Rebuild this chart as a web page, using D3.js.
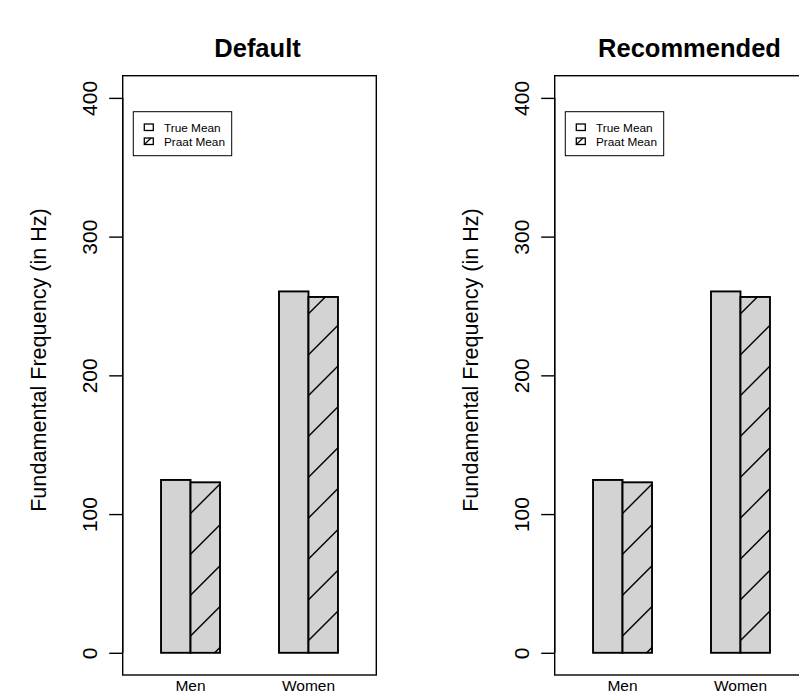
<!DOCTYPE html>
<html>
<head>
<meta charset="utf-8">
<script src="https://cdn.jsdelivr.net/npm/d3@7"></script>
<style>
  html, body { margin: 0; padding: 0; background: #fff; }
  svg { display: block; font-family: "Liberation Sans", Arial, Helvetica, sans-serif; }
</style>
</head>
<body>
<svg id="chart" width="799" height="696"></svg>
<script>
// Mean fundamental frequency (Hz) per speaker group, true vs. Praat estimate
const groups = ["Men", "Women"];
const seriesNames = ["True Mean", "Praat Mean"];
const panelTitles = ["Default", "Recommended"];
const defaultTrue = [124.6, 260.5];
const defaultPraat = [122.9, 256.5];
const recommendedTrue = [124.6, 260.5];
const recommendedPraat = [122.9, 256.5];
const yTicks = [0, 100, 200, 300, 400];

const panels = [
  { title: panelTitles[0], trueVals: defaultTrue, praatVals: defaultPraat },
  { title: panelTitles[1], trueVals: recommendedTrue, praatVals: recommendedPraat }
];

const svg = d3.select("#chart");
const panelWidth = 432;
const plot = { left: 122.7, right: 376.3, top: 75.7, bottom: 675 };

// y range padded 4% beyond [0, 400]
const y = d3.scaleLinear().domain([-16, 416]).range([plot.bottom, plot.top]);
// x in bar-width units: each group holds two adjacent bars, groups 4 units apart
const x = d3.scaleLinear().domain([-1.3, 7.3]).range([plot.left, plot.right]);
const groupStart = i => i * 4;

const hatchStep = 40.85;   // horizontal distance between 45° hatch lines
const hatchPhase = 214.6;  // x where a hatch line meets the zero line

panels.forEach((p, pi) => {
  const g = svg.append("g").attr("transform", `translate(${pi * panelWidth},0)`);

  // title
  g.append("text")
    .attr("x", (plot.left + plot.right) / 2 + 8)
    .attr("y", 57)
    .attr("text-anchor", "middle")
    .attr("font-weight", "bold")
    .attr("font-size", 25.5)
    .text(p.title);

  // bars
  const bars = [];
  groups.forEach((name, i) => {
    bars.push({ x0: groupStart(i), x1: groupStart(i) + 1, v: p.trueVals[i], hatch: false });
    bars.push({ x0: groupStart(i) + 1, x1: groupStart(i) + 2, v: p.praatVals[i], hatch: true });
  });

  bars.forEach((b, bi) => {
    const bx = x(b.x0), bw = x(b.x1) - x(b.x0);
    const by = y(b.v), bh = y(0) - y(b.v);
    g.append("rect")
      .attr("x", bx).attr("y", by).attr("width", bw).attr("height", bh)
      .attr("fill", "#d3d3d3");
    if (b.hatch) {
      const clipId = `clip-${pi}-${bi}`;
      g.append("clipPath").attr("id", clipId)
        .append("rect").attr("x", bx).attr("y", by).attr("width", bw).attr("height", bh);
      const y0 = y(0);
      const kMin = Math.floor((bx - bh - hatchPhase) / hatchStep) - 1;
      const kMax = Math.ceil((bx + bw - hatchPhase) / hatchStep) + 1;
      const hg = g.append("g").attr("clip-path", `url(#${clipId})`);
      d3.range(kMin, kMax + 1).forEach(k => {
        const xi = hatchPhase + k * hatchStep;
        hg.append("line")
          .attr("x1", xi).attr("y1", y0)
          .attr("x2", xi + bh + 10).attr("y2", y0 - bh - 10)
          .attr("stroke", "#000").attr("stroke-width", 1.4);
      });
    }
    g.append("rect")
      .attr("x", bx).attr("y", by).attr("width", bw).attr("height", bh)
      .attr("fill", "none").attr("stroke", "#000").attr("stroke-width", 1.9);
  });

  // plot box
  g.append("rect")
    .attr("x", plot.left).attr("y", plot.top)
    .attr("width", plot.right - plot.left).attr("height", plot.bottom - plot.top)
    .attr("fill", "none").attr("stroke", "#000").attr("stroke-width", 1.4);

  // y axis
  const yAxis = d3.axisLeft(y).tickValues(yTicks).tickSize(13.5).tickPadding(12);
  const ax = g.append("g").attr("transform", `translate(${plot.left},0)`).call(yAxis);
  ax.select(".domain").attr("d", `M0,${y(0)}V${y(400)}`).attr("stroke-width", 1.4);
  ax.selectAll(".tick line").attr("stroke-width", 1.4);
  ax.selectAll(".tick text")
    .attr("font-size", 21)
    .attr("font-family", "Liberation Sans, Arial, sans-serif")
    .attr("fill", "#000")
    .attr("text-anchor", "middle")
    .attr("dy", null)
    .attr("x", null)
    .attr("transform", "translate(-25.5,0) rotate(-90)");

  // y axis title
  g.append("text")
    .attr("transform", `translate(46,360) rotate(-90)`)
    .attr("text-anchor", "middle")
    .attr("font-size", 21.6)
    .text("Fundamental Frequency (in Hz)");

  // group labels
  groups.forEach((name, i) => {
    g.append("text")
      .attr("x", x(groupStart(i) + 1))
      .attr("y", 690.5)
      .attr("text-anchor", "middle")
      .attr("font-size", 15.5)
      .text(name);
  });

  // legend
  const lg = g.append("g");
  lg.append("rect")
    .attr("x", 133.3).attr("y", 111.7).attr("width", 98.4).attr("height", 44)
    .attr("fill", "#fff").attr("stroke", "#000").attr("stroke-width", 1);
  seriesNames.forEach((s, i) => {
    const ry = 124 + i * 14;
    lg.append("rect")
      .attr("x", 144.3).attr("y", ry).attr("width", 9).attr("height", 6.5)
      .attr("fill", "#fff").attr("stroke", "#000").attr("stroke-width", 1.3);
    if (i === 1) {
      lg.append("line")
        .attr("x1", 144.3).attr("y1", ry + 6.5).attr("x2", 151).attr("y2", ry)
        .attr("stroke", "#000").attr("stroke-width", 1.3);
    }
    lg.append("text")
      .attr("x", 164).attr("y", ry + 7.7)
      .attr("font-size", 11.8)
      .text(s);
  });
});
</script>
</body>
</html>
